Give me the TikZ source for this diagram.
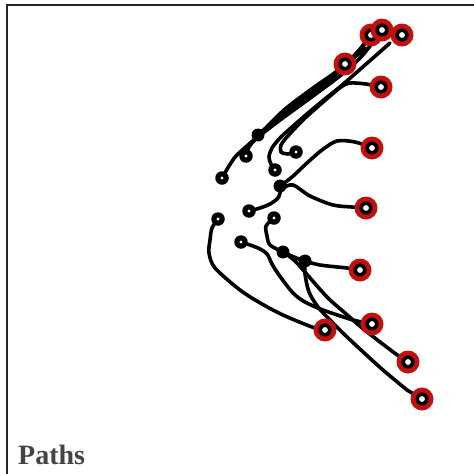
\documentclass[tikz,border=0pt]{standalone}
\usepackage{fontspec}
\setmainfont{Liberation Serif}
\begin{document}
\begin{tikzpicture}[x=1pt,y=-1pt,
  pathline/.style={line width=3.6pt,line cap=round,line join=round,black},
  startdot/.style={circle,fill=black,inner sep=0pt,minimum size=13.5pt},
  junction/.style={circle,fill=black,inner sep=0pt,minimum size=13pt},
  enddot/.style={circle,fill=markred,inner sep=0pt,minimum size=23pt}]
\definecolor{markred}{RGB}{192,16,16}
\definecolor{titlegray}{RGB}{68,68,68}
\useasboundingbox (0,0) rectangle (474,474);
\fill[white] (0,0) rectangle (474,474);
\draw[line width=1.4pt,black!85] (7,474) -- (7,5) -- (474,5);
% start points
\coordinate (s1) at (222,178);
\coordinate (s2) at (246,156);
\coordinate (j1) at (258,135);
\coordinate (s3) at (275,170);
\coordinate (s4) at (296,152);
\coordinate (j2) at (280,186);
\coordinate (s5) at (249,211);
\coordinate (s6) at (218,219);
\coordinate (s7) at (274,218);
\coordinate (s8) at (241,242);
\coordinate (j3) at (283,252);
\coordinate (j4) at (305,261);
% end points
\coordinate (e1) at (371,35);
\coordinate (e2) at (382,30);
\coordinate (e3) at (402,35);
\coordinate (e3a) at (390,43);
\coordinate (e4) at (345,64);
\coordinate (e5) at (381,87);
\coordinate (e6) at (372,148);
\coordinate (e7) at (366,208);
\coordinate (e8) at (360,270);
\coordinate (e9) at (372,324);
\coordinate (e10) at (325,330);
\coordinate (e11) at (408,362);
\coordinate (e12) at (422,399);
% bundle
\draw[pathline] plot[smooth,tension=0.5] coordinates {(s1) (229,166) (236,156) (248,145) (259,135) (284,110) (313,88) (340,69) (358,52) (371,35)};
\draw[pathline] plot[smooth,tension=0.5] coordinates {(s2) (249,147) (257,138) (284,117) (313,96) (341,75) (362,56) (382,30)};
\draw[pathline] plot[smooth,tension=0.5] coordinates {(j1) (281,119) (307,100) (328,83) (345,64)};
\draw[pathline] plot[smooth,tension=0.5] coordinates {(j1) (288,111) (318,88) (343,67) (360,49) (371,35)};
\draw[pathline] plot[smooth,tension=0.5] coordinates {(j1) (282,114) (310,92) (336,72) (355,57) (366,48)};
% right fork
\draw[pathline] plot[smooth,tension=0.5] coordinates {(s3) (271,164) (269,157) (272,148) (281,137) (300,120) (320,103) (341,86) (365,65) (e3a)};
\draw[pathline] plot[smooth,tension=0.5] coordinates {(s4) (288,154) (281,152) (281,145) (287,137) (303,120) (322,103) (341,87) (350,83) (366,84) (e5)};
% middle
\draw[pathline] plot[smooth,tension=0.5] coordinates {(j2) (292,177) (307,163) (322,150) (337,141) (355,142) (e6)};
\draw[pathline] plot[smooth,tension=0.5] coordinates {(s5) (260,208) (270,204) (278,198) (282,189) (293,185) (310,196) (333,205) (352,207) (e7)};
% lower
\draw[pathline] plot[smooth,tension=0.5] coordinates {(s6) (212,228) (210,240) (209,253) (215,268) (240,290) (262,304) (283,315) (312,327) (e10)};
\draw[pathline] plot[smooth,tension=0.5] coordinates {(s7) (266,226) (267,236) (270,245) (j3) (294,257) (j4) (320,265) (347,268) (e8)};
\draw[pathline] plot[smooth,tension=0.5] coordinates {(s8) (258,248) (267,254) (272,264) (279,275) (293,293) (305,302) (323,310) (353,320) (e9)};
\draw[pathline] plot[smooth,tension=0.5] coordinates {(j3) (294,260) (304,271) (327,297) (345,313) (361,327) (380,342) (400,357) (e11)};
\draw[pathline] plot[smooth,tension=0.5] coordinates {(j4) (305,274) (309,292) (318,307) (331,321) (345,335) (361,350) (383,370) (407,390)};
\draw[pathline] (407,390) -- (e12);
% markers
\foreach \p in {s1,s2,s3,s4,s5,s6,s7,s8}{
  \node[startdot] (m\p) at (\p) {};
  \fill[white] (\p) circle (1.6pt);
}
\foreach \p in {j1,j2,j3,j4}{
  \node[junction] (m\p) at (\p) {};
}
\foreach \p in {e1,e2,e3,e4,e5,e6,e7,e8,e9,e10,e11,e12}{
  \node[enddot] (m\p) at (\p) {};
  \fill[black] (\p) circle (6.6pt);
  \fill[white] (\p) circle (2.9pt);
}
\node[anchor=base west,inner sep=0pt,text=titlegray,font=\fontsize{28}{28}\selectfont\bfseries] (title) at (18,464) {Paths};
\end{tikzpicture}
\end{document}
